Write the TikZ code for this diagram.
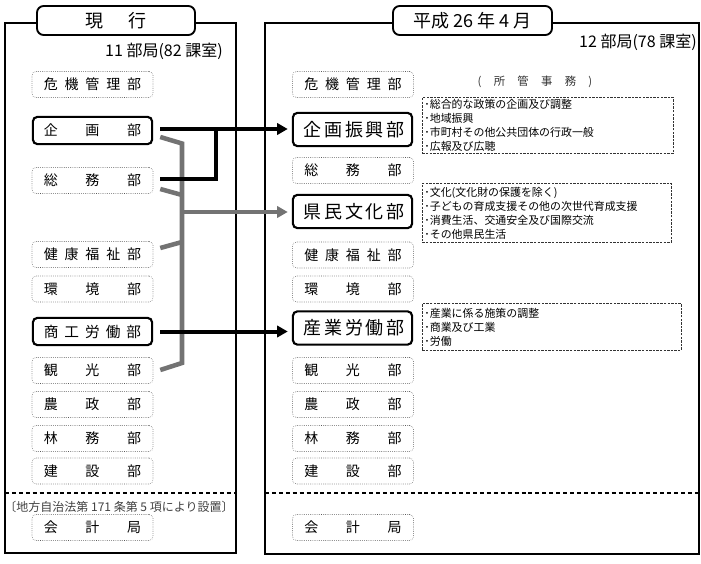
\documentclass[tikz,border=0pt]{standalone}
\usepackage{fontspec}
\setmainfont{Noto Sans CJK JP}
\usetikzlibrary{arrows.meta}

\tikzset{
    bu/.style = {draw = black!65, densely dotted, rounded corners = 3pt, minimum width = 90.75pt, minimum height = 19.5pt, inner sep = 0pt, font = \fontsize{10.5}{12}\selectfont},
    bustrong/.style = {draw = black, solid, line width = 1.6pt, rounded corners = 3.5pt, minimum width = 89.5pt, minimum height = 20.5pt, inner sep = 0pt, font = \fontsize{11}{12}\selectfont},
    panel/.style = {draw = black, line width = 1pt},
    tab/.style = {draw = black, fill = white, line width = 1.4pt, rounded corners = 5pt, inner sep = 0pt, minimum height = 21.75pt, font = \fontsize{13.5}{15}\selectfont},
    divide/.style = {line width = 1.1pt, dash pattern = on 3pt off 2.2pt},
    jimu/.style = {draw = black!80, line width = 0.6pt, dash pattern = on 1.8pt off 0.9pt, anchor = north west, align = left, inner xsep = 1.5pt, inner ysep = 0pt, font = \fontsize{8.2}{10.5}\selectfont},
    blk/.style = {draw = black, line width = 3pt},
    blkarrow/.style = {blk, -{Triangle[length = 8pt, width = 8.5pt]}, shorten > = 3pt},
    grayline/.style = {draw = black!55, line width = 3.4pt},
    grayarrow/.style = {grayline, -{Triangle[length = 8pt, width = 8.5pt]}, shorten > = 3pt}
}
\newcommand{\spreadname}[1]{\makebox[73pt][s]{#1}}

\begin{document}
\begin{tikzpicture}[x = 0.75pt, y = -0.75pt]
        \useasboundingbox (0, 0) rectangle (701, 564);

        % the two panels
        \draw[panel] (5, 23) rectangle (236, 553);
        \draw[panel] (265, 23) rectangle (699, 554);
        \draw[divide] (5, 493) -- (236, 493);
        \draw[divide] (265, 493) -- (699, 493);
        \node (tgen) at (116, 20.5) [tab, minimum width = 118.5pt] {\makebox[46.5pt][s]{現 行}};
        \node (tnew) at (472.5, 20.5) [tab, minimum width = 119.25pt] {平成 26 年 4 月};
        \node (lcount) at (223, 51) [anchor = east, inner sep = 0pt, font = \fontsize{12}{14}\selectfont] {11 部局(82 課室)};
        \node (rcount) at (697, 42) [anchor = east, inner sep = 0pt, font = \fontsize{12}{14}\selectfont] {12 部局(78 課室)};

        % left column
        \node (lkiki) at (92.5, 84.5) [bu] {\spreadname{危 機 管 理 部}};
        \node (lkikaku) at (92.5, 130.5) [bustrong, font = \fontsize{10.5}{12}\selectfont] {\spreadname{企 画 部}};
        \node (lsoumu) at (92.5, 180.5) [bu] {\spreadname{総 務 部}};
        \node (lkenkou) at (92.5, 254.5) [bu] {\spreadname{健 康 福 祉 部}};
        \node (lkankyo) at (92.5, 289) [bu] {\spreadname{環 境 部}};
        \node (lshoko) at (92.5, 331.5) [bustrong] {\spreadname{商 工 労 働 部}};
        \node (lkankou) at (92.5, 370.5) [bu] {\spreadname{観 光 部}};
        \node (lnousei) at (92.5, 404.5) [bu] {\spreadname{農 政 部}};
        \node (lrinmu) at (92.5, 438.5) [bu] {\spreadname{林 務 部}};
        \node (lkensetsu) at (92.5, 471) [bu] {\spreadname{建 設 部}};
        \node (lhou) at (119, 507) [font = \fontsize{9}{10}\selectfont, text = black!75] {〔地方自治法第 171 条第 5 項により設置〕};
        \node (lkaikei) at (92.5, 527.5) [bu] {\spreadname{会 計 局}};

        % right column
        \node (rkiki) at (353, 84.5) [bu] {\spreadname{危 機 管 理 部}};
        \node (rkikaku) at (352.5, 129.5) [bustrong, minimum height = 25pt, font = \fontsize{13.5}{15}\selectfont] {\spreadname{企 画 振 興 部}};
        \node (rsoumu) at (353, 170.5) [bu] {\spreadname{総 務 部}};
        \node (rkenmin) at (352.5, 211.5) [bustrong, minimum height = 25pt, font = \fontsize{13.5}{15}\selectfont] {\spreadname{県 民 文 化 部}};
        \node (rkenkou) at (353, 255) [bu] {\spreadname{健 康 福 祉 部}};
        \node (rkankyo) at (353, 289) [bu] {\spreadname{環 境 部}};
        \node (rsangyo) at (352.5, 328) [bustrong, minimum height = 25pt, font = \fontsize{13.5}{15}\selectfont] {\spreadname{産 業 労 働 部}};
        \node (rkankou) at (353, 370.5) [bu] {\spreadname{観 光 部}};
        \node (rnousei) at (353, 404.5) [bu] {\spreadname{農 政 部}};
        \node (rrinmu) at (353, 438.5) [bu] {\spreadname{林 務 部}};
        \node (rkensetsu) at (353, 471) [bu] {\spreadname{建 設 部}};
        \node (rkaikei) at (353, 527.5) [bu] {\spreadname{会 計 局}};

        % duties
        \node (jhead) at (535, 82) [font = \fontsize{8.5}{10}\selectfont, text = black!80] {\makebox[86pt][s]{( 所 管 事 務 )}};
        \node (jkikaku) at (422, 97) [jimu, text width = 185pt, minimum height = 42pt] {･総合的な政策の企画及び調整\\･地域振興\\･市町村その他公共団体の行政一般\\･広報及び広聴};
        \node (jkenmin) at (422, 183) [jimu, text width = 183.5pt, minimum height = 44.25pt] {･文化(文化財の保護を除く)\\･子どもの育成支援その他の次世代育成支援\\･消費生活、交通安全及び国際交流\\･その他県民生活};
        \node (jsangyo) at (422, 303) [jimu, text width = 191pt, minimum height = 35.25pt] {･産業に係る施策の調整\\･商業及び工業\\･労働};

        % gray spine
        \coordinate (gtop) at (182, 143.5);
        \coordinate (gsoumu) at (182, 195);
        \coordinate (gmid) at (182, 212);
        \coordinate (gkenkou) at (182, 242);
        \coordinate (gbot) at (182, 363);
        \draw[grayline] ([shift = {(7, 6.5)}]lkikaku.east) -- (gtop) -- (gbot) -- ([shift = {(7, -0.5)}]lkankou.east);
        \draw[grayline] ([shift = {(7, 8.5)}]lsoumu.east) -- (gsoumu);
        \draw[grayline] ([shift = {(7, -6.5)}]lkenkou.east) -- (gkenkou);
        \draw[grayarrow] (gmid) -- (gmid -| rkenmin.west);

        % black connectors
        \coordinate (kjoin) at (216, 129);
        \draw[blkarrow] ([shift = {(7, -1.5)}]lkikaku.east) -- (kjoin -| rkikaku.west);
        \draw[blk] ([shift = {(7, -1.5)}]lsoumu.east) -| ([yshift = -1.5pt]kjoin);
        \draw[blkarrow] ([xshift = 5.25pt]lshoko.east) -- (lshoko.east -| rsangyo.west);
    \end{tikzpicture}
\end{document}
